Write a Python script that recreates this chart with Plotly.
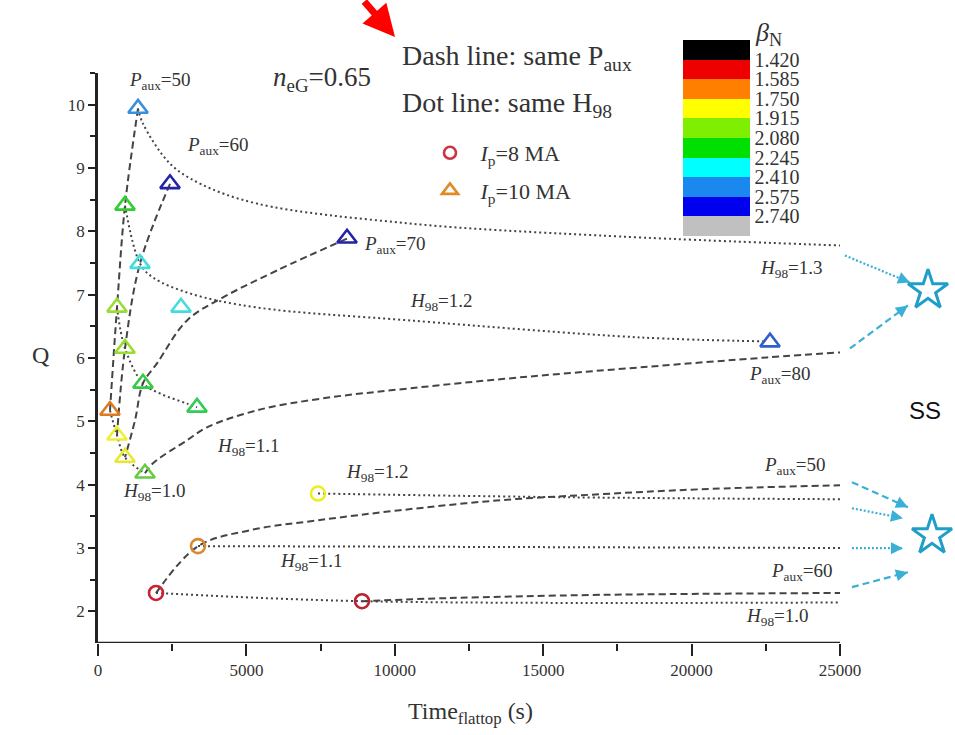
import plotly.graph_objects as go

# ---------------- data ----------------
# Ip = 10 MA (triangles)
tri_time = [1348, 2426, 910, 1415, 2796, 640, 8390, 22642, 910, 1516, 3336, 404, 640, 910, 1584]
tri_q = [9.94, 8.75, 8.41, 7.49, 6.80, 6.80, 7.89, 6.25, 6.15, 5.60, 5.22, 5.17, 4.78, 4.43, 4.18]
tri_color = ["#3a8fdc", "#2323a8", "#33cc33", "#44dddd", "#44dddd", "#99dd33", "#2323a8", "#2f5fcc",
             "#99dd33", "#33cc44", "#33cc55", "#dd7a22", "#eeee33", "#e8e833", "#66cc44"]

# Ip = 8 MA (circles)
circ_time = [7412, 3369, 1954, 8895]
circ_q = [3.86, 3.03, 2.29, 2.16]
circ_color = ["#eeee22", "#d88a33", "#cc2233", "#b82233"]

# same Paux curves (dashed), Ip = 10 MA
p50_t = [1348, 910, 640, 404]
p50_q = [9.94, 8.41, 6.80, 5.17]
p60_t = [2426, 1415, 910, 640]
p60_q = [8.75, 7.49, 6.15, 4.78]
p70_t = [8389, 6031, 4211, 2998, 1988, 1516, 1247, 910]
p70_q = [7.886, 7.382, 6.956, 6.593, 5.915, 5.60, 5.016, 4.432]
p80_t = [1583, 1853, 2998, 3672, 5357, 7580, 10511, 14217, 18260, 22539, 25000]
p80_q = [4.180, 4.338, 4.70, 4.905, 5.174, 5.363, 5.521, 5.694, 5.852, 6.009, 6.088]

# same H98 curves (dotted), Ip = 10 MA
h13_t = [1348, 1516, 2426, 3436, 5357, 10511, 16912, 25000]
h13_q = [9.937, 9.70, 9.069, 8.754, 8.438, 8.123, 7.934, 7.776]
h12_t = [910, 1415, 1853, 3099, 5357, 10511, 18260, 22539]
h12_q = [8.407, 7.492, 7.271, 7.019, 6.798, 6.593, 6.325, 6.262]
h11_t = [640, 910, 1516, 2089, 2998, 3336]
h11_q = [6.80, 6.15, 5.60, 5.44, 5.28, 5.22]
h10_t = [404, 640, 910, 1584]
h10_q = [5.17, 4.78, 4.43, 4.18]

# Ip = 8 MA curves
c_p50_t = [1954, 3369, 5121, 7412, 10174, 13543, 16912, 20281, 25000]
c_p50_q = [2.287, 3.028, 3.281, 3.438, 3.596, 3.754, 3.849, 3.927, 3.991]
c_p60_t = [8895, 11859, 16912, 25000]
c_p60_q = [2.16, 2.21, 2.26, 2.29]
c_h12_t = [7412, 16000, 25000]
c_h12_q = [3.86, 3.80, 3.77]
c_h11_t = [3369, 25000]
c_h11_q = [3.03, 3.00]
c_h10_t = [1954, 8895, 25000]
c_h10_q = [2.29, 2.16, 2.14]

# steady-state points
ss_t = [27965, 28100]
ss_q = [7.07, 3.20]

# arrows toward SS: (x0, y0, x1, y1, dash)
arrows = [
    (25166, 7.618, 27356, 7.192, "dot"),
    (25335, 6.151, 27289, 6.830, "dash"),
    (25402, 4.038, 27289, 3.644, "dash"),
    (25402, 3.628, 27120, 3.470, "dot"),
    (25402, 2.997, 27120, 2.997, "dot"),
    (25402, 2.382, 27289, 2.618, "dash"),
]

# colorbar (top -> bottom)
beta_ticks = [1.420, 1.585, 1.750, 1.915, 2.080, 2.245, 2.410, 2.575, 2.740]
beta_colors = ["#000000", "#ee0000", "#ff7f00", "#ffff00", "#80ee00", "#00e000",
               "#00ffff", "#1a88ee", "#0000ee", "#c0c0c0"]

x_ticks = [0, 5000, 10000, 15000, 20000, 25000]
x_minor = [2500, 7500, 12500, 17500, 22500]
y_ticks = [2, 3, 4, 5, 6, 7, 8, 9, 10]
y_minor = [2.5, 3.5, 4.5, 5.5, 6.5, 7.5, 8.5, 9.5, 10.5]

# text labels: (text, x, y, anchor)
labels = [
    ("<i>P</i><sub>aux</sub>=50", 2089, 10.38, "center"),
    ("<i>P</i><sub>aux</sub>=60", 4043, 9.35, "center"),
    ("<i>P</i><sub>aux</sub>=70", 8894, 7.78, "left"),
    ("<i>H</i><sub>98</sub>=1.2", 11589, 6.88, "center"),
    ("<i>H</i><sub>98</sub>=1.3", 23381, 7.41, "center"),
    ("<i>P</i><sub>aux</sub>=80", 22977, 5.73, "center"),
    ("<i>H</i><sub>98</sub>=1.1", 5054, 4.59, "center"),
    ("<i>H</i><sub>98</sub>=1.0", 1920, 3.88, "center"),
    ("<i>H</i><sub>98</sub>=1.2", 9433, 4.18, "center"),
    ("<i>P</i><sub>aux</sub>=50", 23482, 4.29, "center"),
    ("<i>H</i><sub>98</sub>=1.1", 7210, 2.78, "center"),
    ("<i>P</i><sub>aux</sub>=60", 23718, 2.62, "center"),
    ("<i>H</i><sub>98</sub>=1.0", 22909, 1.91, "center"),
]

SERIF = "Liberation Serif"
XMAX = 847 * 25000 / 742

fig = go.Figure()


def curve(t, q, dash):
    pattern = "7px,4px" if dash == "dash" else "2px,3px"
    fig.add_trace(go.Scatter(x=t, y=q, mode="lines",
                             line=dict(color="#444444", width=2, dash=pattern, shape="spline"),
                             showlegend=False, hoverinfo="skip"))


for t, q in [(p50_t, p50_q), (p60_t, p60_q), (p70_t, p70_q), (p80_t, p80_q),
             (c_p50_t, c_p50_q), (c_p60_t, c_p60_q)]:
    curve(t, q, "dash")
for t, q in [(h13_t, h13_q), (h12_t, h12_q), (h11_t, h11_q), (h10_t, h10_q),
             (c_h12_t, c_h12_q), (c_h11_t, c_h11_q), (c_h10_t, c_h10_q)]:
    curve(t, q, "dot")

# arrows
for x0, y0, x1, y1, d in arrows:
    pattern = "7px,4px" if d == "dash" else "2px,2px"
    fig.add_trace(go.Scatter(x=[x0, x1], y=[y0, y1], mode="lines",
                             line=dict(color="#3ab0d6", width=2.2, dash=pattern),
                             showlegend=False, hoverinfo="skip"))
    fig.add_annotation(x=x1, y=y1, ax=x1 - (x1 - x0) * 0.12, ay=y1 - (y1 - y0) * 0.12,
                       xref="x", yref="y", axref="x", ayref="y", text="", showarrow=True,
                       arrowhead=2, arrowsize=1.2, arrowwidth=2, arrowcolor="#3ab0d6")

# markers
fig.add_trace(go.Scatter(x=tri_time, y=tri_q, mode="markers", cliponaxis=False,
                         marker=dict(symbol="triangle-up-open", size=17, color=tri_color,
                                     line=dict(width=2.6, color=tri_color)),
                         showlegend=False, hoverinfo="skip"))
fig.add_trace(go.Scatter(x=circ_time, y=circ_q, mode="markers", cliponaxis=False,
                         marker=dict(symbol="circle-open", size=14, color=circ_color,
                                     line=dict(width=2.6, color=circ_color)),
                         showlegend=False, hoverinfo="skip"))
fig.add_trace(go.Scatter(x=ss_t, y=ss_q, mode="markers", cliponaxis=False,
                         marker=dict(symbol="star-open", size=30, color="#1f9fc8",
                                     line=dict(width=3, color="#1f9fc8")),
                         showlegend=False, hoverinfo="skip"))

# legend entries
fig.add_trace(go.Scatter(x=[None], y=[None], mode="markers", name=" <i>I</i><sub>p</sub>=8 MA",
                         legendgroup="a",
                         marker=dict(symbol="circle-open", size=12, color="#cc3344", line=dict(width=2.6))))
fig.add_trace(go.Scatter(x=[None], y=[None], mode="markers", name=" <i>I</i><sub>p</sub>=10 MA",
                         legendgroup="b",
                         marker=dict(symbol="triangle-up-open", size=14, color="#e08a22", line=dict(width=2.6))))

# colorbar dummy: values negated so that 1.420 sits at the top
n = len(beta_colors)
rev = beta_colors[::-1]
cscale = []
for i, c in enumerate(rev):
    cscale.append([i / n, c])
    cscale.append([(i + 1) / n, c])
step = beta_ticks[1] - beta_ticks[0]
fig.add_trace(go.Scatter(x=[None], y=[None], mode="markers", showlegend=False, hoverinfo="skip",
                         marker=dict(color=[-beta_ticks[0]], colorscale=cscale,
                                     cmin=-(beta_ticks[-1] + step), cmax=-(beta_ticks[0] - step),
                                     showscale=True,
                                     colorbar=dict(x=(683 - 98) / 847, xanchor="left", xpad=0,
                                                   y=(643 - 40) / 570, yanchor="top", ypad=0,
                                                   thickness=67, lenmode="pixels", len=196,
                                                   outlinewidth=0, ticks="",
                                                   tickvals=[-v for v in beta_ticks],
                                                   ticktext=[f"{v:.3f}" for v in beta_ticks],
                                                   tickfont=dict(family=SERIF, size=20, color="#333333")))))

# x axis line only up to 25000
fig.add_shape(type="line", xref="x", yref="y", x0=0, x1=25000, y0=1.5, y1=1.5,
              line=dict(color="#222222", width=2.5))

for text, x, y, anc in labels:
    fig.add_annotation(x=x, y=y, xref="x", yref="y", text=text, showarrow=False, xanchor=anc,
                       yanchor="middle", font=dict(family=SERIF, size=19, color="#333333"))


def px_x(p):
    return (p - 98) / 847


def px_y(p):
    return (643 - p) / 570


def paper_text(px, py, text, size, anchor="center", family=SERIF, color="#333333"):
    fig.add_annotation(x=px_x(px), y=px_y(py), xref="paper", yref="paper", text=text,
                       showarrow=False, xanchor=anchor, yanchor="middle",
                       font=dict(family=family, size=size, color=color))


fig.add_annotation(x=7547, y=10.41, xref="x", yref="y", text="<i>n</i><sub>eG</sub>=0.65", showarrow=False,
                   yanchor="middle", font=dict(family=SERIF, size=27, color="#333333"))
paper_text(400, 58, "Dash line: same P<sub>aux</sub>", 28, anchor="left")
paper_text(400, 105, "Dot line: same H<sub>98</sub>", 28, anchor="left")
fig.add_annotation(x=27862, y=5.17, xref="x", yref="y", text="SS", showarrow=False, yanchor="middle",
                   font=dict(family="Liberation Sans", size=24, color="#111111"))
paper_text(768, 34, "<i>β</i><sub>N</sub>", 26)
paper_text(40, 355, "Q", 24)
paper_text(470, 713, "Time<sub>flattop</sub> (s)", 24)
# red pointer arrow
fig.add_annotation(x=px_x(395), y=px_y(37), xref="paper", yref="paper",
                   ax=-32, ay=-42, text="", showarrow=True, arrowhead=2, arrowsize=0.9,
                   arrowwidth=7, arrowcolor="#ff0000")

fig.update_layout(
    width=955, height=735,
    margin=dict(l=98, r=10, t=73, b=92),
    paper_bgcolor="white", plot_bgcolor="white",
    font=dict(family=SERIF, color="#333333"),
    legend=dict(x=px_x(425), y=px_y(132), xanchor="left", yanchor="top",
                bgcolor="rgba(0,0,0,0)", font=dict(family=SERIF, size=22, color="#333333"),
                tracegroupgap=6, itemwidth=40),
    xaxis=dict(range=[0, XMAX], showline=False, showgrid=False, zeroline=False,
               tickmode="array", tickvals=x_ticks, ticktext=[str(v) for v in x_ticks],
               ticks="outside", ticklen=12, tickwidth=2, tickcolor="#222222",
               tickfont=dict(family=SERIF, size=17, color="#333333"),
               minor=dict(tickmode="array", tickvals=x_minor,
                          ticks="outside", ticklen=7, tickwidth=2, tickcolor="#222222")),
    yaxis=dict(range=[1.5, 10.5], showline=True, linewidth=2.5, linecolor="#222222",
               showgrid=False, zeroline=False,
               tickmode="array", tickvals=y_ticks, ticktext=[str(v) for v in y_ticks],
               ticks="outside", ticklen=7, tickwidth=2, tickcolor="#222222",
               tickfont=dict(family=SERIF, size=17, color="#333333"),
               minor=dict(tickmode="array", tickvals=y_minor,
                          ticks="outside", ticklen=5, tickwidth=2, tickcolor="#222222")),
)

fig.write_html("out.html")
